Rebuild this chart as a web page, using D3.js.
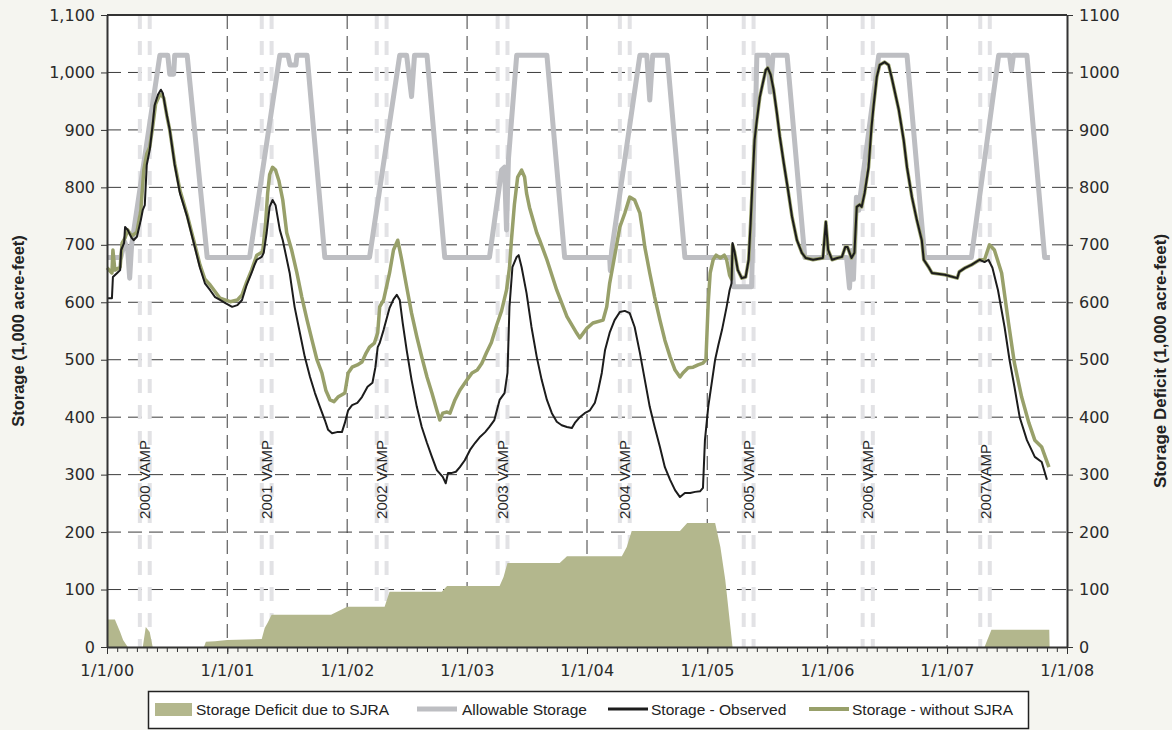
<!DOCTYPE html>
<html>
<head>
<meta charset="utf-8">
<script src="https://cdn.jsdelivr.net/npm/d3@7/dist/d3.min.js"></script>
<style>
  body { margin: 0; background: #f5f5f0; }
  svg { display: block; }
</style>
</head>
<body>
<div id="chart"></div>
<script>
// allowable storage (1,000 acre-feet)
let allowable = [
  ["2000-01-01",678],["2000-02-12",678],["2000-02-24",705],["2000-03-04",690],["2000-03-10",642],["2000-03-16",700],
  ["2000-06-10",1030],["2000-07-04",1030],["2000-07-10",997],["2000-07-22",997],["2000-07-25",1030],["2000-09-01",1030],["2000-11-01",678],
  ["2001-03-10",678],["2001-06-10",1030],["2001-07-05",1030],["2001-07-11",1013],["2001-07-29",1013],["2001-08-01",1030],["2001-09-01",1030],["2001-10-25",678],
  ["2002-03-10",678],["2002-06-10",1030],["2002-07-01",1030],["2002-07-16",958],["2002-07-25",1030],["2002-09-01",1030],["2002-10-25",678],
  ["2003-03-10",678],["2003-04-16",830],["2003-04-25",835],["2003-05-01",726],["2003-05-07",850],["2003-06-01",1030],["2003-09-01",1030],["2003-10-25",678],
  ["2004-03-10",678],["2004-03-12",655],["2004-03-16",690],["2004-06-10",1030],["2004-07-01",1030],["2004-07-10",952],["2004-07-19",1030],["2004-09-01",1030],["2004-10-25",678],
  ["2005-03-16",678],["2005-03-22",627],["2005-05-16",627],["2005-06-01",1030],["2005-07-04",1030],["2005-07-12",966],["2005-07-20",1030],["2005-09-01",1030],["2005-10-25",678],
  ["2006-03-01",678],["2006-03-10",625],["2006-03-16",690],["2006-03-22",640],["2006-03-31",783],["2006-04-07",760],["2006-04-13",790],["2006-06-07",1030],["2006-09-01",1030],["2006-10-25",678],
  ["2007-03-16",678],["2007-06-07",1030],["2007-07-10",1030],["2007-07-16",1004],["2007-07-22",1030],["2007-09-01",1030],["2007-10-25",678],["2007-11-10",678]
];

// storage - observed
let observed = [
  ["2000-01-01",607],["2000-01-16",607],["2000-01-19",644],["2000-02-01",651],["2000-02-10",656],["2000-02-13",691],["2000-02-22",703],["2000-02-25",731],
  ["2000-03-04",726],["2000-03-16",712],["2000-03-22",708],["2000-04-01",714],["2000-04-13",743],["2000-04-19",761],["2000-04-25",769],["2000-05-01",839],
  ["2000-05-10",865],["2000-05-19",909],["2000-05-25",943],["2000-06-04",961],["2000-06-13",970],["2000-06-19",964],["2000-06-28",935],["2000-07-10",900],
  ["2000-07-25",839],["2000-08-10",790],["2000-09-01",749],["2000-09-19",708],["2000-10-10",660],["2000-10-25",633],["2000-11-10",621],["2000-11-25",609],
  ["2000-12-10",604],["2000-12-25",599],["2001-01-16",592],["2001-02-01",595],["2001-02-15",604],["2001-03-01",630],["2001-03-16",651],["2001-03-25",665],
  ["2001-04-01",674],["2001-04-16",679],["2001-04-22",686],["2001-05-01",721],["2001-05-10",766],["2001-05-19",778],["2001-05-28",769],["2001-06-10",726],
  ["2001-06-19",708],["2001-07-10",651],["2001-07-25",592],["2001-08-10",547],["2001-08-25",505],["2001-09-10",470],["2001-09-25",442],["2001-10-10",418],
  ["2001-10-25",395],["2001-11-04",378],["2001-11-16",372],["2001-12-01",374],["2001-12-16",374],["2001-12-25",390],["2002-01-04",412],["2002-01-16",421],
  ["2002-02-01",425],["2002-02-15",435],["2002-03-04",453],["2002-03-19",460],["2002-03-28",487],["2002-04-04",522],["2002-04-10",529],["2002-04-22",552],
  ["2002-05-10",590],["2002-05-22",605],["2002-06-01",613],["2002-06-10",604],["2002-06-19",564],["2002-07-01",517],["2002-07-16",465],["2002-08-01",418],
  ["2002-08-16",383],["2002-09-01",355],["2002-09-16",331],["2002-10-01",308],["2002-10-19",296],["2002-10-28",285],["2002-11-04",303],["2002-11-16",303],
  ["2002-11-28",305],["2002-12-10",313],["2002-12-25",325],["2003-01-10",343],["2003-01-25",355],["2003-02-10",366],["2003-02-25",374],["2003-03-10",383],
  ["2003-03-25",395],["2003-04-10",430],["2003-04-25",442],["2003-05-04",477],["2003-05-10",592],["2003-05-19",661],["2003-06-01",679],["2003-06-07",682],
  ["2003-06-16",661],["2003-07-01",616],["2003-07-16",557],["2003-08-01",505],["2003-08-16",465],["2003-09-01",430],["2003-09-16",407],["2003-10-01",392],
  ["2003-10-16",386],["2003-11-01",383],["2003-11-16",381],["2003-11-25",390],["2003-12-10",400],["2003-12-25",407],["2004-01-10",412],["2004-01-25",425],
  ["2004-02-04",447],["2004-02-15",477],["2004-02-25",517],["2004-03-10",547],["2004-03-25",569],["2004-04-10",583],["2004-04-25",585],["2004-05-10",581],
  ["2004-05-25",557],["2004-06-10",512],["2004-06-25",465],["2004-07-10",418],["2004-07-25",383],["2004-08-10",348],["2004-08-25",313],["2004-09-10",291],
  ["2004-09-25",273],["2004-10-10",261],["2004-10-25",268],["2004-11-10",268],["2004-11-25",270],["2004-12-10",271],["2004-12-19",277],["2004-12-25",360],
  ["2005-01-04",418],["2005-01-16",465],["2005-01-25",500],["2005-02-04",526],["2005-02-15",552],["2005-03-01",592],["2005-03-10",621],["2005-03-16",633],
  ["2005-03-19",703],["2005-03-25",688],["2005-04-04",656],["2005-04-16",642],["2005-04-28",644],["2005-05-07",674],["2005-05-13",738],["2005-05-19",813],
  ["2005-05-25",882],["2005-06-01",917],["2005-06-10",957],["2005-06-19",981],["2005-06-28",1004],["2005-07-04",1008],["2005-07-13",996],["2005-07-22",970],
  ["2005-08-01",929],["2005-08-10",888],["2005-08-22",842],["2005-09-04",795],["2005-09-16",749],["2005-10-01",708],["2005-10-16",686],["2005-10-28",677],
  ["2005-11-19",674],["2005-12-19",677],["2005-12-28",740],["2006-01-04",691],["2006-01-16",674],["2006-02-01",677],["2006-02-15",679],["2006-02-25",696],
  ["2006-03-04",696],["2006-03-16",677],["2006-03-25",686],["2006-04-01",766],["2006-04-10",770],["2006-04-16",766],["2006-04-25",790],["2006-05-07",835],
  ["2006-05-16",905],["2006-05-22",940],["2006-06-01",992],["2006-06-10",1013],["2006-06-25",1018],["2006-07-07",1013],["2006-07-16",992],["2006-08-07",935],
  ["2006-08-22",882],["2006-09-01",835],["2006-09-16",783],["2006-10-01",743],["2006-10-16",708],["2006-10-22",674],["2006-11-07",660],["2006-11-16",651],
  ["2006-12-25",648],["2007-02-01",642],["2007-02-07",653],["2007-02-25",660],["2007-03-16",665],["2007-04-10",674],["2007-04-25",670],["2007-05-07",674],
  ["2007-05-19",660],["2007-06-05",621],["2007-06-25",557],["2007-07-10",500],["2007-07-25",453],["2007-08-10",400],["2007-09-01",360],["2007-09-25",331],
  ["2007-10-16",322],["2007-11-01",291]
];

// storage - without SJRA
let withoutSJRA = [
  ["2000-01-01",660],["2000-01-16",651],["2000-01-19",691],["2000-01-25",656],["2000-02-10",661],["2000-02-16",703],["2000-02-25",712],["2000-03-04",726],
  ["2000-03-16",715],["2000-04-01",722],["2000-04-13",760],["2000-04-22",830],["2000-05-01",858],["2000-05-10",870],["2000-05-19",905],["2000-05-28",945],
  ["2000-06-07",958],["2000-06-13",962],["2000-06-22",955],["2000-07-01",925],["2000-07-10",900],["2000-07-25",842],["2000-08-10",795],["2000-09-01",752],
  ["2000-09-19",712],["2000-10-10",665],["2000-10-25",640],["2000-11-10",630],["2000-12-10",607],["2001-01-10",601],["2001-02-01",604],["2001-02-15",613],
  ["2001-03-01",635],["2001-03-16",656],["2001-04-01",682],["2001-04-19",688],["2001-04-28",740],["2001-05-04",790],["2001-05-10",822],["2001-05-19",835],
  ["2001-05-28",830],["2001-06-07",812],["2001-06-19",778],["2001-07-01",721],["2001-07-16",691],["2001-08-01",651],["2001-08-16",609],["2001-09-01",569],
  ["2001-09-16",534],["2001-10-01",500],["2001-10-16",477],["2001-10-28",447],["2001-11-10",430],["2001-11-22",427],["2001-12-04",435],["2001-12-16",439],
  ["2001-12-25",442],["2002-01-04",477],["2002-01-16",487],["2002-02-01",491],["2002-02-15",496],["2002-02-28",512],["2002-03-10",522],["2002-03-25",529],
  ["2002-04-04",547],["2002-04-10",592],["2002-04-22",604],["2002-05-10",651],["2002-05-22",691],["2002-06-04",708],["2002-06-16",674],["2002-07-01",627],
  ["2002-07-16",581],["2002-08-01",540],["2002-08-16",505],["2002-09-01",470],["2002-09-16",442],["2002-10-01",412],["2002-10-10",395],["2002-10-19",407],
  ["2002-11-01",409],["2002-11-10",407],["2002-11-25",430],["2002-12-10",447],["2003-01-01",465],["2003-01-16",477],["2003-02-01",482],["2003-02-15",494],
  ["2003-03-01",512],["2003-03-16",530],["2003-04-01",560],["2003-04-16",585],["2003-05-01",621],["2003-05-10",660],["2003-05-16",708],["2003-05-25",770],
  ["2003-06-04",818],["2003-06-16",830],["2003-06-25",818],["2003-07-01",790],["2003-07-10",765],["2003-08-01",721],["2003-08-10",708],["2003-09-01",674],
  ["2003-10-01",621],["2003-11-01",575],["2003-12-01",546],["2003-12-10",538],["2004-01-01",555],["2004-01-19",564],["2004-02-19",569],["2004-03-01",592],
  ["2004-03-10",633],["2004-03-19",661],["2004-04-10",731],["2004-04-25",755],["2004-05-10",783],["2004-05-25",778],["2004-06-10",755],["2004-06-19",721],
  ["2004-06-25",696],["2004-07-10",651],["2004-07-25",609],["2004-08-10",569],["2004-08-25",534],["2004-09-10",505],["2004-09-25",482],["2004-10-10",470],
  ["2004-10-19",477],["2004-11-04",486],["2004-11-19",487],["2004-12-04",491],["2004-12-19",494],["2004-12-28",500],["2005-01-04",600],["2005-01-10",651],
  ["2005-01-19",674],["2005-01-28",682],["2005-02-10",677],["2005-02-22",682],["2005-03-01",674],["2005-03-10",647],["2005-03-16",640],["2005-03-19",700],
  ["2005-03-25",688],["2005-04-04",656],["2005-04-16",642],["2005-04-28",644],["2005-05-07",674],["2005-05-13",738],["2005-05-19",813],["2005-05-25",882],
  ["2005-06-01",917],["2005-06-10",957],["2005-06-19",981],["2005-06-28",1004],["2005-07-04",1008],["2005-07-13",996],["2005-07-22",970],["2005-08-01",929],
  ["2005-08-10",888],["2005-08-22",842],["2005-09-04",795],["2005-09-16",749],["2005-10-01",708],["2005-10-16",686],["2005-10-28",677],["2005-11-19",674],
  ["2005-12-19",677],["2005-12-28",740],["2006-01-04",691],["2006-01-16",674],["2006-02-01",677],["2006-02-15",679],["2006-02-25",696],["2006-03-04",696],
  ["2006-03-16",677],["2006-03-25",686],["2006-04-01",766],["2006-04-10",770],["2006-04-16",766],["2006-04-25",790],["2006-05-07",835],["2006-05-16",905],
  ["2006-05-22",940],["2006-06-01",992],["2006-06-10",1013],["2006-06-25",1018],["2006-07-07",1013],["2006-07-16",992],["2006-08-07",935],["2006-08-22",882],
  ["2006-09-01",835],["2006-09-16",783],["2006-10-01",743],["2006-10-16",708],["2006-10-22",674],["2006-11-07",660],["2006-11-16",651],["2006-12-25",648],
  ["2007-02-01",642],["2007-02-07",653],["2007-02-25",660],["2007-03-16",665],["2007-04-10",674],["2007-04-25",674],["2007-05-10",700],["2007-05-25",691],
  ["2007-06-16",651],["2007-07-07",564],["2007-07-25",494],["2007-08-16",435],["2007-09-07",390],["2007-09-25",360],["2007-10-16",348],["2007-11-07",313]
];

// storage deficit due to SJRA (right axis)
let deficit = [
  ["2000-01-01",48],["2000-01-25",48],["2000-02-10",26],["2000-02-19",12],["2000-03-04",0],["2000-04-19",0],["2000-04-28",35],["2000-05-10",26],
  ["2000-05-19",0],["2000-10-22",0],["2000-10-28",9],["2000-11-25",10],["2001-01-01",12],["2001-04-16",14],["2001-04-25",33],["2001-05-04",42],
  ["2001-05-16",56],["2001-11-13",56],["2002-01-01",70],["2002-04-25",70],["2002-05-10",96],["2002-10-16",96],["2002-11-01",106],["2003-04-10",106],
  ["2003-04-22",122],["2003-05-04",146],["2003-10-10",146],["2003-11-01",158],["2004-04-16",158],["2004-05-01",174],["2004-05-16",202],["2004-10-10",202],
  ["2004-11-01",216],["2005-01-25",216],["2005-02-10",174],["2005-02-25",116],["2005-03-19",0],["2007-04-25",0],["2007-05-16",30],["2007-11-08",30],
  ["2007-11-09",0]
];

// VAMP periods
let vampLabels = ["2000 VAMP", "2001 VAMP", "2002 VAMP", "2003 VAMP", "2004 VAMP", "2005 VAMP", "2006 VAMP", "2007VAMP"];
let vampStart = ["2000-04-10", "2001-04-16", "2002-04-01", "2003-04-04", "2004-04-10", "2005-04-22", "2006-04-19", "2007-04-12"];
let vampEnd   = ["2000-05-10", "2001-05-16", "2002-05-01", "2003-05-04", "2004-05-10", "2005-05-22", "2006-05-20", "2007-05-11"];

let yTicks = [0, 100, 200, 300, 400, 500, 600, 700, 800, 900, 1000, 1100];
let legendLabels = ["Storage Deficit due to SJRA", "Allowable Storage", "Storage - Observed", "Storage - without SJRA"];

let margin = {top: 15, right: 105, bottom: 83, left: 107},
  width = 1172 - margin.left - margin.right,
  height = 730 - margin.top - margin.bottom;

let parse = d3.timeParse("%Y-%m-%d");

let svg = d3.select("#chart")
  .append("svg")
    .attr("width", 1172)
    .attr("height", 730)
    .style("background", "#f5f5f0");

let chart = svg.append("g")
    .attr("transform", "translate(" + margin.left + "," + margin.top + ")");

let x = d3.scaleTime()
  .domain([parse("2000-01-01"), parse("2008-01-01")])
  .range([0, width]);

let y = d3.scaleLinear()
  .domain([0, 1100])
  .range([height, 0]);

// white plot area
chart.append("rect")
  .attr("width", width)
  .attr("height", height)
  .attr("fill", "#ffffff");

// grid
chart.append("g")
  .selectAll("line")
  .data(yTicks.slice(1, -1))
  .join("line")
    .attr("x1", 0).attr("x2", width)
    .attr("y1", d => y(d)).attr("y2", d => y(d))
    .attr("stroke", "#3c3c3c")
    .attr("stroke-dasharray", "14,7");

chart.append("g")
  .selectAll("line")
  .data(x.ticks(d3.timeYear.every(1)).slice(1, -1))
  .join("line")
    .attr("x1", d => x(d)).attr("x2", d => x(d))
    .attr("y1", 0).attr("y2", height)
    .attr("stroke", "#3c3c3c")
    .attr("stroke-dasharray", "14,7");

// VAMP dashed bands
let vampLines = [];
vampStart.forEach((s, i) => { vampLines.push(s, vampEnd[i]); });

chart.append("g")
  .selectAll("line")
  .data(vampLines)
  .join("line")
    .attr("x1", d => x(parse(d))).attr("x2", d => x(parse(d)))
    .attr("y1", 0).attr("y2", height)
    .attr("stroke", "#e2e2e5")
    .attr("stroke-width", 4)
    .attr("stroke-dasharray", "14,12");

// deficit area
chart.append("path")
  .datum(deficit)
  .attr("fill", "#b3b78d")
  .attr("d", d3.area()
    .x(d => x(parse(d[0])))
    .y0(y(0))
    .y1(d => y(d[1])));

let line = d3.line()
  .x(d => x(parse(d[0])))
  .y(d => y(d[1]));

chart.append("path")
  .datum(allowable)
  .attr("fill", "none")
  .attr("stroke", "#bdbec2")
  .attr("stroke-width", 5)
  .attr("stroke-linejoin", "round")
  .attr("d", line);

chart.append("path")
  .datum(withoutSJRA)
  .attr("fill", "none")
  .attr("stroke", "#98a06a")
  .attr("stroke-width", 3.5)
  .attr("stroke-linejoin", "round")
  .attr("d", line);

chart.append("path")
  .datum(observed)
  .attr("fill", "none")
  .attr("stroke", "#1c1c1c")
  .attr("stroke-width", 2)
  .attr("stroke-linejoin", "round")
  .attr("d", line);

// VAMP labels
chart.append("g")
  .selectAll("text")
  .data(vampLabels)
  .join("text")
    .attr("transform", (d, i) => {
      let mid = (x(parse(vampStart[i])) + x(parse(vampEnd[i]))) / 2;
      return "translate(" + (mid + 5.5) + "," + y(223) + ") rotate(-90)";
    })
    .style("font-family", "Liberation Sans, Arial, sans-serif")
    .style("font-size", "15px")
    .style("fill", "#2a2a2a")
    .text(d => d);

// axes
let axisFont = "DejaVu Sans, sans-serif";

chart.append("line")
  .attr("x1", 0).attr("x2", width)
  .attr("y1", 0).attr("y2", 0)
  .attr("stroke", "#333")
  .attr("stroke-width", 2);

let leftAxis = chart.append("g")
  .call(d3.axisLeft(y).tickValues(yTicks).tickFormat(d3.format(",")).tickSize(6).tickSizeOuter(0).tickPadding(6));

let rightAxis = chart.append("g")
  .attr("transform", "translate(" + width + ",0)")
  .call(d3.axisRight(y).tickValues(yTicks).tickFormat(d => d).tickSize(6).tickSizeOuter(0).tickPadding(6));

chart.append("g")
  .attr("transform", "translate(0," + height + ")")
  .call(d3.axisBottom(x).ticks(d3.timeMonth.every(1)).tickFormat("").tickSize(5).tickSizeOuter(0))
  .call(g => g.select(".domain").remove());

let bottomAxis = chart.append("g")
  .attr("transform", "translate(0," + height + ")")
  .call(d3.axisBottom(x).ticks(d3.timeYear.every(1)).tickFormat(d3.timeFormat("%-m/%-d/%y")).tickSize(7).tickSizeOuter(0).tickPadding(11));

[leftAxis, rightAxis, bottomAxis].forEach(g => {
  g.select(".domain").attr("stroke", "#333").attr("stroke-width", 2);
  g.selectAll(".tick line").attr("stroke", "#333");
  g.selectAll("text")
    .style("font-family", axisFont)
    .style("font-size", "16px")
    .style("fill", "#2a2a2a");
});
chart.selectAll(".tick line").attr("stroke", "#333");
bottomAxis.selectAll("text").style("letter-spacing", "0.5px");

// axis titles
svg.append("text")
  .attr("transform", "translate(24," + (margin.top + height / 2) + ") rotate(-90)")
  .attr("text-anchor", "middle")
  .style("font-family", "Liberation Sans, Arial, sans-serif")
  .style("font-weight", "bold")
  .style("font-size", "16.5px")
  .style("fill", "#222")
  .text("Storage (1,000 acre-feet)");

svg.append("text")
  .attr("transform", "translate(1166," + (margin.top + height / 2 + 30) + ") rotate(-90)")
  .attr("text-anchor", "middle")
  .style("font-family", "Liberation Sans, Arial, sans-serif")
  .style("font-weight", "bold")
  .style("font-size", "17px")
  .style("fill", "#222")
  .text("Storage Deficit (1,000 acre-feet)");

// legend
let legend = svg.append("g");

legend.append("rect")
  .attr("x", 148.5).attr("y", 691.5)
  .attr("width", 880).attr("height", 37)
  .attr("fill", "#ffffff")
  .attr("stroke", "#222")
  .attr("stroke-width", 1.5);

let legX = [155, 417, 608, 809];
let legTextX = [196, 462, 651, 852];

legend.append("rect")
  .attr("x", legX[0]).attr("y", 703)
  .attr("width", 37).attr("height", 13)
  .attr("fill", "#b3b78d");

let legStroke = [null, {c: "#bdbec2", w: 5}, {c: "#1c1c1c", w: 3}, {c: "#98a06a", w: 4}];
legStroke.forEach((s, i) => {
  if (!s) return;
  legend.append("line")
    .attr("x1", legX[i]).attr("x2", legX[i] + 40)
    .attr("y1", 709).attr("y2", 709)
    .attr("stroke", s.c)
    .attr("stroke-width", s.w);
});

legend.selectAll("text.leg")
  .data(legendLabels)
  .join("text")
    .attr("class", "leg")
    .attr("x", (d, i) => legTextX[i])
    .attr("y", 715)
    .style("font-family", "Liberation Sans, Arial, sans-serif")
    .style("font-size", "15.5px")
    .style("fill", "#222")
    .text(d => d);
</script>
</body>
</html>
